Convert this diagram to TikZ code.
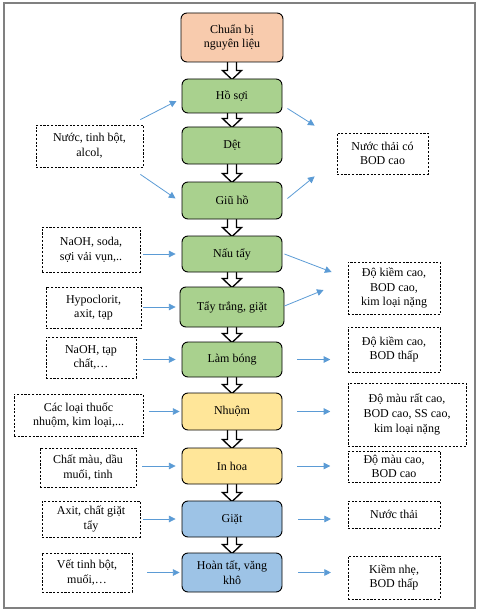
\documentclass[tikz,border=0pt]{standalone}
\usepackage{fontspec}
\setmainfont{Liberation Serif}
\usetikzlibrary{arrows.meta, calc, backgrounds}

\definecolor{prepfill}{HTML}{F8CBAD}
\definecolor{greenfill}{HTML}{A9D18E}
\definecolor{yellowfill}{HTML}{FFE699}
\definecolor{bluefill}{HTML}{9DC3E6}
\definecolor{flowblue}{HTML}{5B9BD5}

\tikzset{
    proc/.style={draw, line width=0.7pt, rounded corners=4.5pt, align=center, inner sep=1pt,
        font=\fontsize{9}{11}\selectfont},
    note/.style={draw, line width=0.6pt, dash pattern=on 1.6pt off 1.2pt, align=center, inner sep=1pt,
        font=\fontsize{9}{11}\selectfont},
    sz/.style 2 args={minimum width=#1*0.75pt, minimum height=#2*0.75pt},
    flow/.style={draw, color=flowblue, line width=0.6pt, -{Triangle[length=5pt,width=5pt]}}
}

% hollow block arrow from one step to the next
\newcommand{\hollowarr}[2]{%
    \draw[line width=1pt, fill=white]
        ($(#1.south)+(-4.5,-2)$) -- ($(#2.north)+(-4.5,-8)$) -- ($(#2.north)+(-9.5,-8)$)
        -- ($(#2.north)+(0,1)$) -- ($(#2.north)+(9.5,-8)$) -- ($(#2.north)+(4.5,-8)$)
        -- ($(#1.south)+(4.5,-2)$) -- cycle;}

\begin{document}
\begin{tikzpicture}[x=0.75pt, y=-0.75pt]
    \useasboundingbox (0,0) rectangle (480,613);
    \draw[gray, line width=1.1pt] (4,3) rectangle (475,608);

    % main steps
    \node[proc, fill=prepfill, sz={102}{49}] (prep) at (232,37.5) {Chuẩn bị\\nguyên liệu};
    \node[proc, fill=greenfill, sz={100}{34}] (ho) at (232,96) {Hồ sợi};
    \node[proc, fill=greenfill, sz={100}{37}] (det) at (232,145.5) {Dệt};
    \node[proc, fill=greenfill, sz={100}{37}] (giuho) at (232,200.5) {Giũ hồ};
    \node[proc, fill=greenfill, sz={100}{36}] (nau) at (232,254) {Nấu tẩy};
    \node[proc, fill=greenfill, sz={104}{40}] (tay) at (232,307) {Tẩy trắng, giặt};
    \node[proc, fill=greenfill, sz={100}{35}] (lam) at (232,359.5) {Làm bóng};
    \node[proc, fill=yellowfill, sz={100}{37}] (nhuom) at (232,411.5) {Nhuộm};
    \node[proc, fill=yellowfill, sz={100}{36}] (inhoa) at (232,466) {In hoa};
    \node[proc, fill=bluefill, sz={100}{36}] (giat) at (232,519) {Giặt};
    \node[proc, fill=bluefill, sz={100}{39}] (hoantat) at (232,572.5) {Hoàn tất, văng\\khô};

    % inputs
    \node[note, sz={107}{42}] (in1) at (89.5,146) {Nước, tinh bột,\\alcol,};
    \node[note, sz={98}{45}] (in2) at (91,249.5) {NaOH, soda,\\sợi vải vụn,..};
    \node[note, sz={95}{41}] (in3) at (93.5,307.5) {Hypoclorit,\\axit, tạp};
    \node[note, sz={90}{41}] (in4) at (91,357.5) {NaOH, tạp\\chất,…};
    \node[note, sz={129}{42}] (in5) at (78.5,415) {Các loại thuốc\\nhuộm, kim loại,...};
    \node[note, sz={96}{39}] (in6) at (88,467.5) {Chất màu, dầu\\muối, tinh};
    \node[note, sz={98}{36}] (in7) at (91,519) {Axit, chất giặt\\tẩy};
    \node[note, sz={90}{39}] (in8) at (87,572.5) {Vết tinh bột,\\muối,…};

    % outputs
    \node[note, sz={91}{41}] (out1) at (382.5,153.5) {Nước thải có\\BOD cao};
    \node[note, sz={92}{52}] (out2) at (394,288) {Độ kiềm cao,\\BOD cao,\\kim loại nặng};
    \node[note, sz={92}{45}] (out3) at (394,349.5) {Độ kiềm cao,\\BOD thấp};
    \node[note, sz={118}{63}] (out4) at (407,414.5) {Độ màu rất cao,\\BOD cao, SS cao,\\kim loại nặng};
    \node[note, sz={92}{31}] (out5) at (394,466.5) {Độ màu cao,\\BOD cao};
    \node[note, sz={92}{27}] (out6) at (394,514.5) {Nước thải};
    \node[note, sz={92}{43}] (out7) at (394,577.5) {Kiềm nhẹ,\\BOD thấp};

    \begin{scope}[on background layer]
        \foreach \a/\b in {prep/ho, ho/det, det/giuho, giuho/nau, nau/tay, tay/lam,
                lam/nhuom, nhuom/inhoa, inhoa/giat, giat/hoantat}
            \hollowarr{\a}{\b};
    \end{scope}

    \draw[flow] ($(in1.north east)+(-3,-5)$) -- ($(ho.west)+(-5,5)$);
    \draw[flow] ($(in1.south east)+(-3,7)$) -- ($(giuho.west)+(-6,-2)$);
    \draw[flow] ($(ho.south east)+(5,-5)$) -- ($(out1.north west)+(-22,-7)$);
    \draw[flow] ($(giuho.east)+(5,-2)$) -- ($(out1.south west)+(-22,2)$);
    \draw[flow] ($(nau.east)+(2,0)$) -- ($(out2.west)+(-16,-16)$);
    \draw[flow] ($(tay.east)+(0,-1)$) -- ($(out2.west)+(-24,2)$);

    \path
        (in2.east |- nau) edge[flow, shorten <=2.2pt, shorten >=4.5pt] (nau.west)
        (in3.east |- tay) edge[flow, shorten <=1.5pt, shorten >=3pt] (tay.west)
        (in4.east |- lam) edge[flow, shorten <=5pt, shorten >=4.5pt] (lam.west)
        (in5.east |- nhuom) edge[flow, shorten <=4.5pt, shorten >=1.5pt] (nhuom.west)
        (in6.east |- inhoa) edge[flow, shorten <=4.5pt, shorten >=4.5pt] (inhoa.west)
        (in7.east |- giat) edge[flow, shorten <=2.2pt, shorten >=4.5pt] (giat.west)
        (in8.east |- hoantat) edge[flow, shorten <=11pt, shorten >=1.5pt] (hoantat.west)
        (lam.east) edge[flow, shorten <=11pt, shorten >=13pt] (out3.west |- lam)
        (nhuom.east) edge[flow, shorten <=11pt, shorten >=13pt] (out4.west |- nhuom)
        (inhoa.east) edge[flow, shorten <=11pt, shorten >=13pt] (out5.west |- inhoa)
        (giat.east) edge[flow, shorten <=12pt, shorten >=12.5pt] (out6.west |- giat)
        (hoantat.east) edge[flow, shorten <=12pt, shorten >=12.5pt] (out7.west |- hoantat)
        ;
\end{tikzpicture}
\end{document}
